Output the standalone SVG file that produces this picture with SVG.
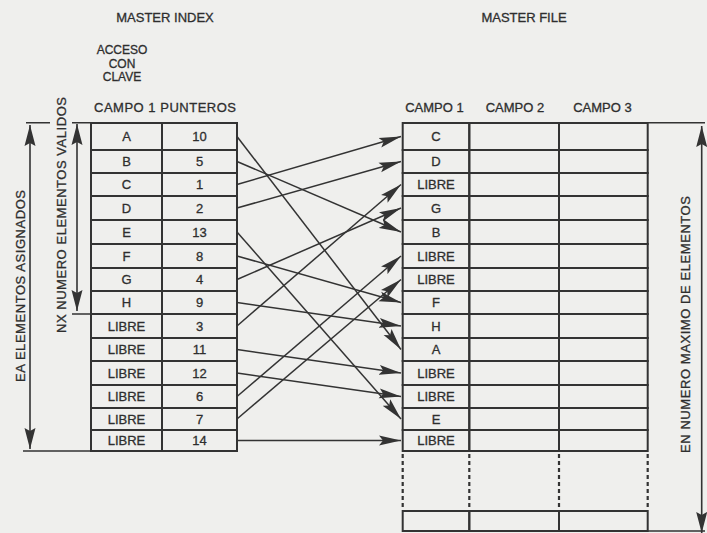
<svg xmlns="http://www.w3.org/2000/svg" width="707" height="533" viewBox="0 0 707 533">
<style>
text{font-family:"Liberation Sans",Arial,sans-serif;font-size:13px;fill:#2e2e2e;stroke:#2e2e2e;stroke-width:0.3;text-anchor:middle}
.sm{font-size:12px}
.cell{fill:none;stroke:#333;stroke-width:2}
.ln{fill:none;stroke:#333;stroke-width:1.6}
.dash{fill:none;stroke:#333;stroke-width:2.2;stroke-dasharray:4 3}
.con{fill:none;stroke:#333;stroke-width:1.5;marker-end:url(#ah)}
.dim{fill:none;stroke:#333;stroke-width:1.6;marker-start:url(#vh);marker-end:url(#vh)}
</style>
<defs>
<marker id="ah" markerUnits="userSpaceOnUse" markerWidth="23" markerHeight="11" refX="22" refY="5.5" orient="auto"><path d="M0,0.5 L22,5.5 L0,10.5 L4,5.5 Z" fill="#333"/></marker>
<marker id="vh" markerUnits="userSpaceOnUse" markerWidth="22" markerHeight="12" refX="21" refY="6" orient="auto-start-reverse"><path d="M0,0.5 L21,6 L0,11.5 L3,6 Z" fill="#333"/></marker>
</defs>
<rect width="707" height="533" fill="#efefed"/>
<g id="headers">
<text x="165" y="22">MASTER INDEX</text>
<text x="524" y="22">MASTER FILE</text>
<text class="sm" x="122" y="54">ACCESO</text>
<text class="sm" x="122" y="67.7">CON</text>
<text class="sm" x="122" y="81.4">CLAVE</text>
<text x="165" y="112" textLength="142">CAMPO 1 PUNTEROS</text>
<text x="434.5" y="111.5">CAMPO 1</text>
<text x="515" y="111.5">CAMPO 2</text>
<text x="602.5" y="111.5">CAMPO 3</text>
</g>
<g id="master-index">
<g id="idx-1"><rect class="cell" x="91" y="123" width="71" height="27"/><rect class="cell" x="162" y="123" width="75" height="27"/><text x="126.5" y="141.2">A</text><text x="199.5" y="141.2">10</text></g>
<g id="idx-2"><rect class="cell" x="91" y="150" width="71" height="23"/><rect class="cell" x="162" y="150" width="75" height="23"/><text x="126.5" y="166.2">B</text><text x="199.5" y="166.2">5</text></g>
<g id="idx-3"><rect class="cell" x="91" y="173" width="71" height="23"/><rect class="cell" x="162" y="173" width="75" height="23"/><text x="126.5" y="189.2">C</text><text x="199.5" y="189.2">1</text></g>
<g id="idx-4"><rect class="cell" x="91" y="196" width="71" height="24"/><rect class="cell" x="162" y="196" width="75" height="24"/><text x="126.5" y="212.7">D</text><text x="199.5" y="212.7">2</text></g>
<g id="idx-5"><rect class="cell" x="91" y="220" width="71" height="24"/><rect class="cell" x="162" y="220" width="75" height="24"/><text x="126.5" y="236.7">E</text><text x="199.5" y="236.7">13</text></g>
<g id="idx-6"><rect class="cell" x="91" y="244" width="71" height="24"/><rect class="cell" x="162" y="244" width="75" height="24"/><text x="126.5" y="260.7">F</text><text x="199.5" y="260.7">8</text></g>
<g id="idx-7"><rect class="cell" x="91" y="268" width="71" height="23"/><rect class="cell" x="162" y="268" width="75" height="23"/><text x="126.5" y="284.2">G</text><text x="199.5" y="284.2">4</text></g>
<g id="idx-8"><rect class="cell" x="91" y="291" width="71" height="23"/><rect class="cell" x="162" y="291" width="75" height="23"/><text x="126.5" y="307.2">H</text><text x="199.5" y="307.2">9</text></g>
<g id="idx-9"><rect class="cell" x="91" y="314" width="71" height="24"/><rect class="cell" x="162" y="314" width="75" height="24"/><text x="126.5" y="330.7">LIBRE</text><text x="199.5" y="330.7">3</text></g>
<g id="idx-10"><rect class="cell" x="91" y="338" width="71" height="23"/><rect class="cell" x="162" y="338" width="75" height="23"/><text x="126.5" y="354.2">LIBRE</text><text x="199.5" y="354.2">11</text></g>
<g id="idx-11"><rect class="cell" x="91" y="361" width="71" height="24"/><rect class="cell" x="162" y="361" width="75" height="24"/><text x="126.5" y="377.7">LIBRE</text><text x="199.5" y="377.7">12</text></g>
<g id="idx-12"><rect class="cell" x="91" y="385" width="71" height="23"/><rect class="cell" x="162" y="385" width="75" height="23"/><text x="126.5" y="401.2">LIBRE</text><text x="199.5" y="401.2">6</text></g>
<g id="idx-13"><rect class="cell" x="91" y="408" width="71" height="22"/><rect class="cell" x="162" y="408" width="75" height="22"/><text x="126.5" y="423.7">LIBRE</text><text x="199.5" y="423.7">7</text></g>
<g id="idx-14"><rect class="cell" x="91" y="430" width="71" height="21"/><rect class="cell" x="162" y="430" width="75" height="21"/><text x="126.5" y="445.2">LIBRE</text><text x="199.5" y="445.2">14</text></g>
</g>
<g id="master-file">
<g id="file-1"><rect class="cell" x="402.7" y="123" width="66.6" height="27"/><rect class="cell" x="469.3" y="123" width="89.7" height="27"/><rect class="cell" x="559" y="123" width="88.7" height="27"/><text x="436" y="141.2">C</text></g>
<g id="file-2"><rect class="cell" x="402.7" y="150" width="66.6" height="23"/><rect class="cell" x="469.3" y="150" width="89.7" height="23"/><rect class="cell" x="559" y="150" width="88.7" height="23"/><text x="436" y="166.2">D</text></g>
<g id="file-3"><rect class="cell" x="402.7" y="173" width="66.6" height="23"/><rect class="cell" x="469.3" y="173" width="89.7" height="23"/><rect class="cell" x="559" y="173" width="88.7" height="23"/><text x="436" y="189.2">LIBRE</text></g>
<g id="file-4"><rect class="cell" x="402.7" y="196" width="66.6" height="24"/><rect class="cell" x="469.3" y="196" width="89.7" height="24"/><rect class="cell" x="559" y="196" width="88.7" height="24"/><text x="436" y="212.7">G</text></g>
<g id="file-5"><rect class="cell" x="402.7" y="220" width="66.6" height="24"/><rect class="cell" x="469.3" y="220" width="89.7" height="24"/><rect class="cell" x="559" y="220" width="88.7" height="24"/><text x="436" y="236.7">B</text></g>
<g id="file-6"><rect class="cell" x="402.7" y="244" width="66.6" height="24"/><rect class="cell" x="469.3" y="244" width="89.7" height="24"/><rect class="cell" x="559" y="244" width="88.7" height="24"/><text x="436" y="260.7">LIBRE</text></g>
<g id="file-7"><rect class="cell" x="402.7" y="268" width="66.6" height="23"/><rect class="cell" x="469.3" y="268" width="89.7" height="23"/><rect class="cell" x="559" y="268" width="88.7" height="23"/><text x="436" y="284.2">LIBRE</text></g>
<g id="file-8"><rect class="cell" x="402.7" y="291" width="66.6" height="23"/><rect class="cell" x="469.3" y="291" width="89.7" height="23"/><rect class="cell" x="559" y="291" width="88.7" height="23"/><text x="436" y="307.2">F</text></g>
<g id="file-9"><rect class="cell" x="402.7" y="314" width="66.6" height="24"/><rect class="cell" x="469.3" y="314" width="89.7" height="24"/><rect class="cell" x="559" y="314" width="88.7" height="24"/><text x="436" y="330.7">H</text></g>
<g id="file-10"><rect class="cell" x="402.7" y="338" width="66.6" height="23"/><rect class="cell" x="469.3" y="338" width="89.7" height="23"/><rect class="cell" x="559" y="338" width="88.7" height="23"/><text x="436" y="354.2">A</text></g>
<g id="file-11"><rect class="cell" x="402.7" y="361" width="66.6" height="24"/><rect class="cell" x="469.3" y="361" width="89.7" height="24"/><rect class="cell" x="559" y="361" width="88.7" height="24"/><text x="436" y="377.7">LIBRE</text></g>
<g id="file-12"><rect class="cell" x="402.7" y="385" width="66.6" height="23"/><rect class="cell" x="469.3" y="385" width="89.7" height="23"/><rect class="cell" x="559" y="385" width="88.7" height="23"/><text x="436" y="401.2">LIBRE</text></g>
<g id="file-13"><rect class="cell" x="402.7" y="408" width="66.6" height="22"/><rect class="cell" x="469.3" y="408" width="89.7" height="22"/><rect class="cell" x="559" y="408" width="88.7" height="22"/><text x="436" y="423.7">E</text></g>
<g id="file-14"><rect class="cell" x="402.7" y="430" width="66.6" height="21"/><rect class="cell" x="469.3" y="430" width="89.7" height="21"/><rect class="cell" x="559" y="430" width="88.7" height="21"/><text x="436" y="445.2">LIBRE</text></g>
<g id="file-gap"><path class="dash" d="M402.7,454 V508 M469.3,454 V508 M559,454 V508 M647.7,454 V508"/></g>
<g id="file-last"><rect class="cell" x="402.7" y="511" width="66.6" height="20"/><rect class="cell" x="469.3" y="511" width="89.7" height="20"/><rect class="cell" x="559" y="511" width="88.7" height="20"/></g>
</g>
<g id="dimensions">
<path class="ln" d="M26,122.7 H50 M23,451 H91 M72,122.7 H91 M72,314 H91 M647.7,122.7 H705 M647.7,531 H705"/>
<line class="dim" x1="30" y1="125" x2="30" y2="449"/>
<line class="dim" x1="77" y1="124" x2="77" y2="311"/>
<line class="dim" x1="701.7" y1="126" x2="701.7" y2="533"/>
<text transform="translate(24.7,286) rotate(-90)" textLength="192">EA ELEMENTOS ASIGNADOS</text>
<text transform="translate(65.7,215) rotate(-90)" textLength="236">NX NUMERO ELEMENTOS VALIDOS</text>
<text transform="translate(689.7,324.5) rotate(-90)" textLength="257">EN NUMERO MAXIMO DE ELEMENTOS</text>
</g>
<g id="connectors">
<line class="con" x1="237" y1="136.5" x2="401" y2="349.5"/>
<line class="con" x1="237" y1="161.5" x2="401" y2="232"/>
<line class="con" x1="237" y1="184.5" x2="401" y2="136.5"/>
<line class="con" x1="237" y1="208" x2="401" y2="161.5"/>
<line class="con" x1="237" y1="232" x2="401" y2="419"/>
<line class="con" x1="237" y1="256" x2="401" y2="302.5"/>
<line class="con" x1="237" y1="279.5" x2="401" y2="208"/>
<line class="con" x1="237" y1="302.5" x2="401" y2="326"/>
<line class="con" x1="237" y1="326" x2="401" y2="184.5"/>
<line class="con" x1="237" y1="349.5" x2="401" y2="373"/>
<line class="con" x1="237" y1="373" x2="401" y2="396.5"/>
<line class="con" x1="237" y1="396.5" x2="401" y2="256"/>
<line class="con" x1="237" y1="419" x2="401" y2="279.5"/>
<line class="con" x1="237" y1="440.5" x2="401" y2="440.5"/>
</g>
</svg>
